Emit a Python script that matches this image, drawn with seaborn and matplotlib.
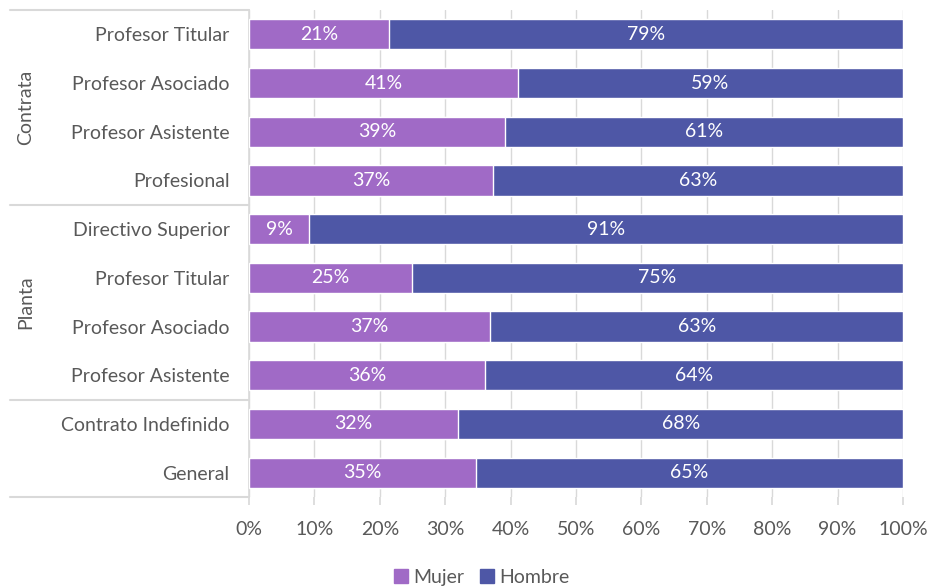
import pandas as pd
import numpy as np
import matplotlib.pyplot as plt
import seaborn as sns
from matplotlib.patches import Patch

# datos (% por sexo)
cargos = ["Profesor Titular", "Profesor Asociado", "Profesor Asistente", "Profesional",
          "Directivo Superior", "Profesor Titular", "Profesor Asociado", "Profesor Asistente",
          "Contrato Indefinido", "General"]
grupos = ["Contrata", "Contrata", "Contrata", "Contrata",
          "Planta", "Planta", "Planta", "Planta", "", ""]
mujer = [21.4, 41.1, 39.1, 37.3, 9.2, 24.9, 36.9, 36.1, 32.0, 34.7]
hombre = [78.6, 58.9, 60.9, 62.7, 90.8, 75.1, 63.1, 63.9, 68.0, 65.3]
xticks = [0, 10, 20, 30, 40, 50, 60, 70, 80, 90, 100]

col_mujer = "#A06AC6"
col_hombre = "#4E57A6"
gris = "#595959"
linea = "#D9D9D9"
fs = 14

sns.set_theme(style="white")
plt.rcParams['font.family'] = ['Lato', 'DejaVu Sans']

df = pd.DataFrame({"cargo": cargos, "grupo": grupos, "Mujer": mujer, "Hombre": hombre})
df["fila"] = [f"{g}-{c}-{i}" for i, (g, c) in enumerate(zip(grupos, cargos))]
df["total"] = df["Mujer"] + df["Hombre"]

fig = plt.figure(figsize=(9.28, 5.86), dpi=100)
ax = fig.add_axes([249/928, 1-497/586, 654/928, 487/586])

sns.barplot(data=df, x="total", y="fila", color=col_hombre, width=0.62,
            saturation=1, orient="h", ax=ax, zorder=2)
sns.barplot(data=df, x="Mujer", y="fila", color=col_mujer, width=0.62,
            saturation=1, orient="h", ax=ax, zorder=3)

for i, (m, h) in enumerate(zip(df["Mujer"], df["Hombre"])):
    ax.text(m/2, i, f"{round(m)}%", ha="center", va="center", color="white", fontsize=fs, zorder=4)
    ax.text(m + h/2, i, f"{round(h)}%", ha="center", va="center", color="white", fontsize=fs, zorder=4)

ax.set_xlim(0, 100)
ax.set_ylim(len(df) - 0.5, -0.5)
ax.set_xticks(xticks)
ax.set_xticklabels([f"{t}%" for t in xticks])
ax.set_yticks(range(len(df)))
ax.set_yticklabels(cargos)
ax.set_xlabel("")
ax.set_ylabel("")
ax.grid(axis="x", color=linea, lw=1, zorder=0)
ax.tick_params(axis="x", bottom=True, length=6, color=linea, colors=gris, labelsize=fs, pad=11)
ax.tick_params(axis="y", left=False, length=0, colors=gris, labelsize=fs, pad=14)
for s in ["top", "right", "bottom"]:
    ax.spines[s].set_visible(False)
ax.spines["left"].set_color(linea)
ax.spines["left"].set_linewidth(1.2)

# lineas de grupos a la izquierda
x0 = (10 - 249) / 654
for yy in [-0.5, 3.5, 7.5, 9.5]:
    ax.plot([x0, 0], [yy, yy], transform=ax.get_yaxis_transform(), color=linea,
            lw=1.5, clip_on=False)
ax.text(x0 + 16/654, 1.5, "Contrata", rotation=90, ha="center", va="center",
        color=gris, fontsize=fs, transform=ax.get_yaxis_transform())
ax.text(x0 + 16/654, 5.5, "Planta", rotation=90, ha="center", va="center",
        color=gris, fontsize=fs, transform=ax.get_yaxis_transform())

handles = [Patch(color=col_mujer, label="Mujer"), Patch(color=col_hombre, label="Hombre")]
leg = fig.legend(handles=handles, loc="lower center", bbox_to_anchor=(482/928, -0.03), ncol=2,
                 frameon=False, fontsize=fs, handlelength=0.7, handleheight=0.7,
                 handletextpad=0.3, columnspacing=0.8)
for t in leg.get_texts():
    t.set_color(gris)

fig.savefig("out.png", dpi=100)
